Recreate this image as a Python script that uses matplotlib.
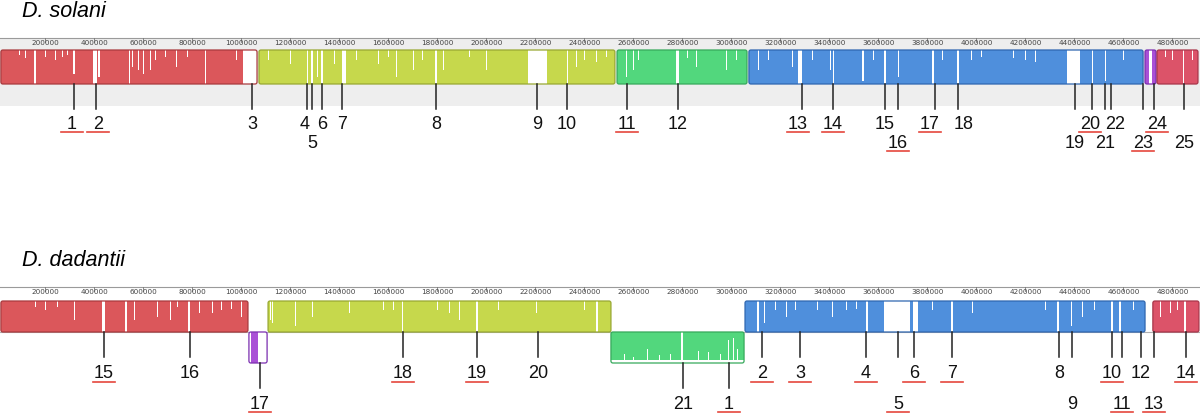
import matplotlib.pyplot as plt
from matplotlib.patches import FancyBboxPatch, Rectangle

# ruler scale of the Mauve picture: kb per pixel, x = 0 is 16.3 kb
KB_PX = 4.08
ticks_kb = list(range(200, 4801, 200))

colours = {
    'red': ('#db575b', '#a83a3e'),
    'yg': ('#c6d84c', '#98a832'),
    'green': ('#52d77d', '#36a95b'),
    'blue': ('#4f8fdc', '#2f66b0'),
    'purple': ('#a950d6', '#7b2fb0'),
    'crimson': ('#dc5369', '#a8364a'),
}

# LCBs: start kb, end kb, colour, inverted
solani_blocks = [
    (20, 1065, 'red', False),
    (1073, 2525, 'yg', False),
    (2534, 3064, 'green', False),
    (3072, 4680, 'blue', False),
    (4688, 4733, 'purple', False),
    (4737, 4904, 'crimson', False),
]
dadantii_blocks = [
    (20, 1028, 'red', False),
    (1032, 1106, 'purple', True),
    (1110, 2509, 'yg', False),
    (2509, 3052, 'green', True),
    (3056, 4688, 'blue', False),
    (4720, 4908, 'crimson', False),
]

# white gaps in the similarity profile: start kb, end kb, depth (fraction)
solani_gaps = [
    (157, 162, 1.0), (316, 322, 0.7), (395, 412, 1.0), (418, 423, 0.8),
    (541, 547, 1.0), (556, 559, 0.5), (580, 584, 0.6), (598, 602, 0.7),
    (630, 634, 0.6), (736, 740, 0.5), (851, 856, 1.0), (1008, 1065, 1.0),
    (60, 63, 0.2), (95, 98, 0.15), (120, 123, 0.25), (200, 203, 0.2),
    (240, 243, 0.3), (270, 272, 0.2), (290, 292, 0.15), (350, 352, 0.2),
    (460, 463, 0.2), (500, 502, 0.25), (650, 652, 0.3), (690, 692, 0.2),
    (700, 703, 0.35), (780, 782, 0.2), (900, 902, 0.2), (950, 952, 0.25),
    (980, 982, 0.3),
    (1267, 1272, 1.0), (1287, 1292, 1.0), (1308, 1312, 0.8), (1328, 1333, 1.0),
    (1412, 1428, 1.0), (1634, 1638, 0.8), (1700, 1704, 0.6), (1793, 1798, 1.0),
    (1822, 1826, 0.6), (2001, 2005, 0.6), (2170, 2248, 1.0), (2328, 2333, 1.0),
    (2368, 2372, 0.5),
    (1110, 1112, 0.3), (1150, 1152, 0.2), (1200, 1203, 0.4), (1240, 1242, 0.3),
    (1350, 1352, 0.3), (1380, 1382, 0.4), (1470, 1472, 0.3), (1520, 1522, 0.25),
    (1560, 1562, 0.4), (1600, 1602, 0.2), (1680, 1682, 0.3), (1740, 1742, 0.3),
    (1880, 1882, 0.3), (1930, 1932, 0.2), (2060, 2062, 0.3), (2100, 2102, 0.2),
    (2400, 2402, 0.3), (2450, 2452, 0.35), (2490, 2492, 0.2),
    (2572, 2576, 0.8), (2597, 2601, 0.6), (2773, 2785, 1.0), (2858, 2862, 0.5),
    (2980, 2984, 0.6), (2620, 2622, 0.3), (2650, 2652, 0.2), (2700, 2702, 0.3),
    (2740, 2742, 0.2), (2820, 2822, 0.25), (2900, 2902, 0.3), (2940, 2942, 0.2),
    (3020, 3022, 0.3),
    (3108, 3112, 0.6), (3248, 3251, 0.5), (3274, 3290, 1.0), (3403, 3406, 0.6),
    (3413, 3418, 1.0), (3483, 3486, 0.5), (3535, 3540, 0.9), (3625, 3630, 1.0),
    (3670, 3674, 0.7), (3680, 3684, 0.8), (3819, 3828, 1.0), (3922, 3930, 1.0),
    (4095, 4098, 0.5), (4270, 4273, 0.6), (4311, 4314, 0.7), (4369, 4422, 1.0),
    (4470, 4475, 1.0), (4515, 4518, 0.6), (4523, 4527, 0.9), (4556, 4559, 0.7),
    (4625, 4628, 0.6),
    (3150, 3152, 0.3), (3190, 3192, 0.2), (3330, 3332, 0.3), (3360, 3362, 0.25),
    (3450, 3452, 0.3), (3580, 3582, 0.3), (3720, 3722, 0.4), (3760, 3762, 0.3),
    (3860, 3862, 0.3), (3980, 3982, 0.3), (4020, 4022, 0.2), (4150, 4152, 0.25),
    (4200, 4202, 0.3), (4240, 4242, 0.35), (4340, 4342, 0.5), (4600, 4602, 0.3),
    (4650, 4652, 0.3),
    (4704, 4716, 1.0),
    (4841, 4846, 1.0), (4770, 4772, 0.2), (4800, 4802, 0.3), (4880, 4882, 0.3),
]
dadantii_gaps = [
    (320, 324, 0.6), (432, 445, 1.0), (528, 533, 1.0), (565, 569, 0.6),
    (655, 659, 0.5), (708, 712, 0.6), (784, 791, 1.0), (830, 834, 0.4),
    (883, 887, 0.4), (998, 1002, 0.5),
    (60, 62, 0.2), (110, 112, 0.25), (160, 162, 0.2), (200, 202, 0.3),
    (250, 252, 0.2), (370, 372, 0.3), (480, 482, 0.25), (610, 612, 0.3),
    (740, 742, 0.2), (920, 922, 0.3), (960, 962, 0.25),
    (1032, 1040, 1.0), (1069, 1106, 1.0),
    (1118, 1121, 0.6), (1128, 1131, 0.7), (1218, 1222, 0.8), (1291, 1294, 0.5),
    (1320, 1323, 0.4), (1373, 1376, 0.5), (1442, 1445, 0.4), (1504, 1507, 0.6),
    (1657, 1662, 1.0), (1728, 1731, 0.5), (1891, 1895, 0.6), (1959, 1965, 1.0),
    (2205, 2209, 0.4), (2449, 2455, 1.0),
    (1580, 1582, 0.3), (1620, 1622, 0.3), (1800, 1802, 0.3), (1850, 1852, 0.4),
    (2050, 2052, 0.3), (2100, 2102, 0.25), (2300, 2302, 0.3), (2350, 2352, 0.25),
    (2400, 2402, 0.3),
    (2509, 3052, 0.1),
    (2564, 2568, 0.3), (2658, 2662, 0.45), (2707, 2711, 0.25), (2795, 2803, 1.0),
    (2866, 2870, 0.4), (2903, 2907, 0.35), (2952, 2956, 0.3), (2985, 2989, 0.75),
    (3005, 3009, 0.8), (3025, 3029, 0.45), (2600, 2603, 0.2), (2750, 2753, 0.3),
    (3106, 3112, 1.0), (3135, 3139, 0.7), (3225, 3229, 0.5), (3409, 3413, 0.5),
    (3551, 3557, 1.0), (3623, 3729, 1.0), (3741, 3762, 1.0), (3896, 3904, 1.0),
    (3984, 3988, 0.4), (4330, 4336, 1.0), (4388, 4392, 0.8), (4429, 4433, 0.5),
    (4550, 4556, 1.0), (4583, 4589, 1.0),
    (3180, 3182, 0.3), (3260, 3262, 0.3), (3300, 3302, 0.4), (3350, 3352, 0.3),
    (3470, 3472, 0.3), (3510, 3512, 0.25), (3820, 3822, 0.3), (4050, 4052, 0.3),
    (4100, 4102, 0.2), (4180, 4182, 0.3), (4230, 4232, 0.25), (4280, 4282, 0.3),
    (4480, 4482, 0.3), (4520, 4522, 0.35), (4640, 4642, 0.3),
    (4848, 4855, 1.0), (4750, 4753, 0.5), (4790, 4793, 0.4), (4820, 4822, 0.3),
]

# numbered regions
solani_labels = list(range(1, 26))
solani_pos = [318, 408, 1044, 1269, 1289, 1330, 1412, 1795, 2207, 2330,
              2574, 2783, 3288, 3415, 3627, 3680, 3831, 3925, 4402, 4472,
              4525, 4549, 4680, 4725, 4847]
solani_row2 = [5, 16, 19, 21, 23, 25]
solani_underlined = [1, 2, 11, 13, 14, 16, 17, 20, 23, 24]

dadantii_labels = [15, 16, 17, 18, 19, 20, 21, 1, 2, 3, 4, 5, 6, 7, 8, 9,
                   10, 11, 12, 13, 14]
dadantii_pos = [441, 792, 1077, 1661, 1962, 2211, 2803, 2991, 3125, 3280,
                3550, 3680, 3745, 3900, 4337, 4390, 4553, 4594, 4672, 4725,
                4855]
dadantii_row2 = [5, 9, 11, 13]
dadantii_underlined = [15, 17, 18, 19, 1, 2, 3, 4, 5, 6, 7, 10, 11, 13, 14]

# small label shifts in pixels
solani_nudge = {1: -2, 2: 2, 4: -2, 13: -4, 17: -5, 18: 6, 20: -2, 22: 4, 24: 3}

fig = plt.figure(figsize=(12, 4.15), dpi=100)
ax = fig.add_axes([0, 0, 1, 1])
ax.set_xlim(16.32, 4912.32)
ax.set_ylim(415, 0)
ax.axis('off')

LABEL_FONT = 'Liberation Sans'


def find_block(blocks, kb):
    for b in blocks:
        if b[0] <= kb <= b[1]:
            return b
    return None


def draw_panel(title, title_y, ruler_y, blocks, gaps, labels, pos, row2,
               underlined, nudge, top, h, shaded):
    if shaded:
        ax.add_patch(Rectangle((0, ruler_y), 5000, top + h + 22 - ruler_y,
                               facecolor='#eeeeee', edgecolor='none', zorder=0))
    ax.plot([0, 5000], [ruler_y, ruler_y], color='#9a9a9a', lw=0.8, zorder=1)
    for t in ticks_kb:
        ax.plot([t, t], [ruler_y, ruler_y + 4], color='#777777', lw=0.6, zorder=1)
        ax.text(t, ruler_y + 5, str(t * 1000), fontsize=5.2, color='#444444',
                ha='center', va='center', family='DejaVu Sans', zorder=2)
    ax.text(22 * KB_PX + 16.32, title_y, title, fontsize=15.5, style='italic',
            family=LABEL_FONT, va='baseline', ha='left')
    if not shaded:
        ax.plot([0, 5000], [top + h, top + h], color='#b0b0b0', lw=0.8, zorder=1)

    for s, e, c, inv in blocks:
        y0 = top + h if inv else top
        face, edge = colours[c]
        ax.add_patch(FancyBboxPatch((s, y0), e - s, h,
                                    boxstyle='round,pad=0,rounding_size=8',
                                    mutation_aspect=0.25, facecolor=face,
                                    edgecolor='none', zorder=2))
    for a, b, d in gaps:
        blk = find_block(blocks, (a + b) / 2)
        if blk is None:
            continue
        a, b = max(a, blk[0] + 1), min(b, blk[1] - 1)
        y0 = top + h if blk[3] else top
        if blk[3]:
            ax.add_patch(Rectangle((a, y0 + h * (1 - d)), b - a, h * d,
                                   facecolor='white', edgecolor='none', zorder=3))
        else:
            ax.add_patch(Rectangle((a, y0), b - a, h * d,
                                   facecolor='white', edgecolor='none', zorder=3))
    for s, e, c, inv in blocks:
        y0 = top + h if inv else top
        face, edge = colours[c]
        ax.add_patch(FancyBboxPatch((s, y0), e - s, h,
                                    boxstyle='round,pad=0,rounding_size=8',
                                    mutation_aspect=0.25, facecolor='none',
                                    edgecolor=edge, lw=0.9, zorder=4))

    for lab, p in zip(labels, pos):
        blk = find_block(blocks, p)
        inv = blk is not None and blk[3]
        y_start = top + 2 * h if inv else top + h
        ax.plot([p, p], [y_start, y_start + 25], color='#222222', lw=1.1, zorder=5)
        if inv:
            base = row_base[1]
        else:
            base = row_base[1] if lab in row2 else row_base[0]
        x = p + nudge.get(lab, 0) * KB_PX
        ax.text(x, base, str(lab), fontsize=13, family=LABEL_FONT,
                ha='center', va='baseline', color='#111111', zorder=5)
        if lab in underlined:
            ax.plot([x - 11 * KB_PX, x + 11 * KB_PX], [base + 3.5, base + 3.5],
                    color='#e5473d', lw=1.2, zorder=5)


row_base = (129, 147.5)
draw_panel('D. solani', 17, 38, solani_blocks, solani_gaps, solani_labels,
           solani_pos, solani_row2, solani_underlined, solani_nudge,
           50, 34, True)

row_base = (378, 408.5)
draw_panel('D. dadantii', 266, 287, dadantii_blocks, dadantii_gaps,
           dadantii_labels, dadantii_pos, dadantii_row2, dadantii_underlined,
           {}, 301, 31, False)

fig.savefig('out.png', dpi=100)
